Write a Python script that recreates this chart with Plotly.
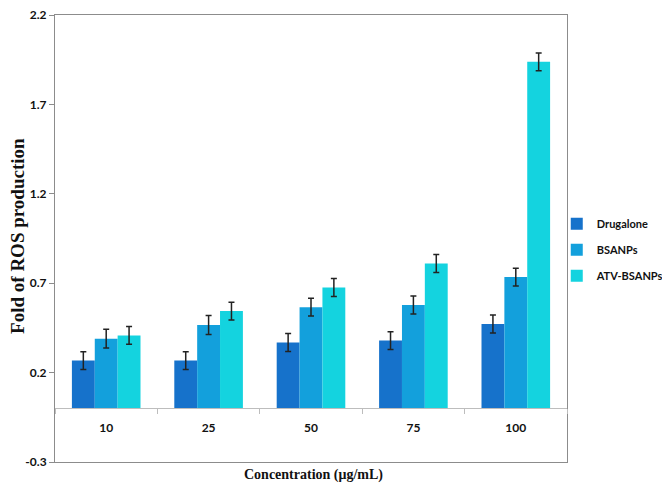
import plotly.graph_objects as go

categories = ["10", "25", "50", "75", "100"]
drug_alone = [0.267, 0.267, 0.368, 0.379, 0.472]
bsanps = [0.390, 0.466, 0.566, 0.578, 0.734]
atv_bsanps = [0.408, 0.544, 0.676, 0.810, 1.938]
err_drug = [0.05, 0.05, 0.05, 0.05, 0.05]
err_bsanps = [0.053, 0.053, 0.05, 0.05, 0.05]
err_atv = [0.05, 0.05, 0.05, 0.05, 0.05]
series_names = ["Drugalone", "BSANPs", "ATV-BSANPs"]
colors = ["#1672cb", "#13a0dc", "#14d3df"]
y_ticks = [-0.3, 0.2, 0.7, 1.2, 1.7, 2.2]

fig = go.Figure()
for name, vals, errs, col in zip(series_names, [drug_alone, bsanps, atv_bsanps],
                                 [err_drug, err_bsanps, err_atv], colors):
    fig.add_trace(go.Bar(
        x=categories, y=vals, name=name, legendgroup=name,
        marker=dict(color=col, line=dict(width=0)),
        error_y=dict(type="data", array=errs, visible=True, color="#222222",
                     thickness=1.5, width=3),
    ))

tick_font = dict(family="Lato", size=12, color="#111111", weight="bold")

# page has an 8px body margin, so the figure is sized to fill the rest of the window
fig.update_layout(
    width=662, height=479,
    margin=dict(l=47, r=103, t=7, b=25, autoexpand=False),
    paper_bgcolor="white", plot_bgcolor="white",
    barmode="group", bargap=0.33, bargroupgap=0,
    showlegend=True,
    legend=dict(x=0.98, y=0.475, xanchor="left", yanchor="middle",
                font=dict(family="Lato", size=11, color="#111111", weight="bold"),
                itemwidth=30, tracegroupgap=7, bgcolor="rgba(0,0,0,0)"),
    xaxis=dict(type="category", anchor="free", position=0.12, automargin=False,
               showline=True, linecolor="#bdbdbd", linewidth=1,
               ticks="outside", tickson="boundaries", ticklen=5, tickcolor="#bdbdbd",
               showgrid=False, tickfont=tick_font, ticklabelstandoff=8),
    xaxis2=dict(overlaying="x", anchor="y", showline=True, mirror=True, automargin=False,
                linecolor="#8c8c8c", linewidth=1, showticklabels=False,
                showgrid=False, ticks="", range=[0, 1]),
    yaxis=dict(range=[-0.3, 2.2], tickvals=y_ticks, ticktext=[f"{v:.1f}" for v in y_ticks],
               showline=True, mirror=True, linecolor="#8c8c8c", linewidth=1,
               ticks="outside", ticklen=5, tickcolor="#8c8c8c", automargin=False,
               ticklabeloverflow="allow",
               showgrid=False, zeroline=False, tickfont=tick_font),
    annotations=[
        dict(text="Concentration (μg/mL)", xref="paper", yref="paper", x=0.504, y=-0.03,
             xanchor="center", yanchor="middle", showarrow=False,
             font=dict(family="Liberation Serif", size=14, color="#111111", weight="bold")),
        dict(text="Fold of ROS production", xref="paper", yref="paper", x=-0.073, y=0.505,
             xanchor="center", yanchor="middle", textangle=-90, showarrow=False,
             font=dict(family="Liberation Serif", size=19, color="#111111", weight="bold")),
    ],
)
# invisible trace on xaxis2 to display its frame
fig.add_trace(go.Scatter(x=[0, 1], y=[None, None], xaxis="x2", showlegend=False,
                         hoverinfo="skip", mode="lines"))

fig.write_html("out.html")
